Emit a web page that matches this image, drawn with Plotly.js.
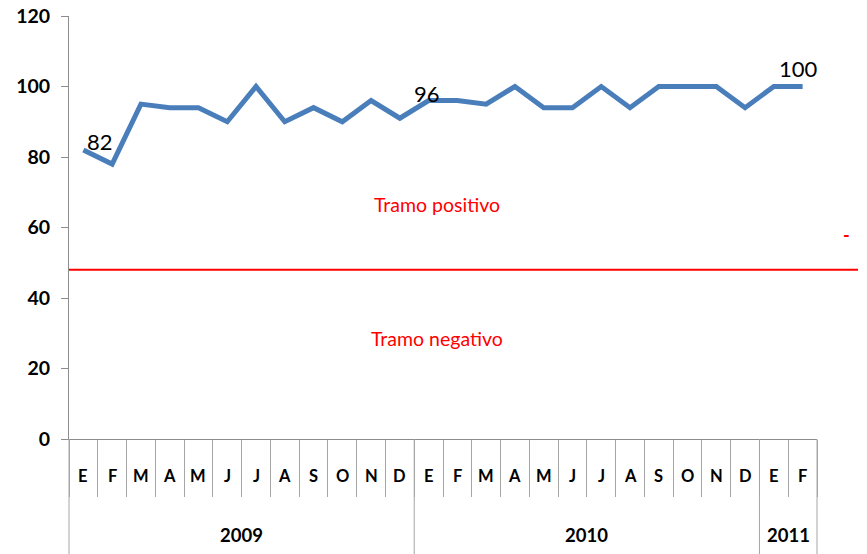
<!DOCTYPE html>
<html>
<head>
<meta charset="utf-8">
<script src="https://cdn.plot.ly/plotly-3.0.1.min.js"></script>
<style>html,body{margin:0;padding:0;background:#fff;}#chart{width:867px;height:554px;}</style>
</head>
<body>
<div id="chart"></div>
<script>
// ---- data ----
var months = ["E","F","M","A","M","J","J","A","S","O","N","D",
              "E","F","M","A","M","J","J","A","S","O","N","D",
              "E","F"];
var years = ["2009","2009","2009","2009","2009","2009","2009","2009","2009","2009","2009","2009",
             "2010","2010","2010","2010","2010","2010","2010","2010","2010","2010","2010","2010",
             "2011","2011"];
var values = [82,78,95,94,94,90,100,90,94,90,96,91,
              96,96,95,100,94,94,100,94,100,100,100,94,
              100,100];
var labelledIdx = [0, 12, 25];          // points carrying a value label
var labelShift = [[17,8],[-2,7],[-4,18]]; // pixel offsets of those labels
var threshold = 48;
var zoneLabels = ["Tramo positivo", "Tramo negativo"];
var zoneValues = [66.4, 28.4];
var yTicks = [0,20,40,60,80,100,120];

// ---- derived ----
var N = months.length;
var xs = months.map(function(_, i){ return i; });
var xMin = -0.5, xMax = N - 0.5, yMax = 120;
var bounds = [];
for (var b = 0; b <= N; b++) bounds.push(b - 0.5);

// year groups
var groups = [];
years.forEach(function(y, i){
  if (!groups.length || groups[groups.length-1].year !== y) groups.push({year:y, start:i, end:i});
  else groups[groups.length-1].end = i;
});

var plotH = 554 - 16 - 115;
var annotations = [];
var shapes = [];
var fam = "Lato, 'Open Sans', sans-serif";
var boldFont = {family:fam, size:16.5, color:"#000", weight:"bold"};

months.forEach(function(m, i){
  annotations.push({x:i, y:-37/plotH, xref:"x", yref:"paper", text:m, showarrow:false,
    xanchor:"center", yanchor:"middle", font:boldFont});
});
groups.forEach(function(g){
  annotations.push({x:(g.start+g.end)/2, y:-96/plotH, xref:"x", yref:"paper", text:g.year, showarrow:false,
    xanchor:"center", yanchor:"middle", font:{family:fam, size:18.5, color:"#000", weight:"bold"}});
});
// year dividers
var yearBounds = [groups[0].start - 0.5].concat(groups.map(function(g){ return g.end + 0.5; }));
yearBounds.forEach(function(bx){
  var p = (bx - xMin)/(xMax - xMin);
  shapes.push({type:"line", xref:"paper", yref:"paper", x0:p, x1:p, y0:0, y1:-115/plotH,
    line:{color:"#a6a6a6", width:1}});
});
// threshold line (extends past the plot area on the right)
shapes.push({type:"line", xref:"paper", yref:"paper", x0:0, x1:(858-69)/748,
  y0:threshold/yMax, y1:threshold/yMax, line:{color:"#ff0000", width:2}});

// data labels
labelledIdx.forEach(function(idx, k){
  annotations.push({x:idx, y:values[idx], xref:"x", yref:"y", text:String(values[idx]), showarrow:false,
    xanchor:"center", yanchor:"middle", xshift:labelShift[k][0], yshift:labelShift[k][1],
    font:{family:fam, size:22, color:"#000"}});
});
// zone labels
zoneLabels.forEach(function(t, k){
  annotations.push({x:0.492, y:zoneValues[k], xref:"paper", yref:"y", text:t, showarrow:false,
    xanchor:"center", yanchor:"middle", font:{family:fam, size:19.5, color:"#ff0000"}});
});
// stray red dash at right
annotations.push({x:(846-69)/748, y:58, xref:"paper", yref:"y", text:"-", showarrow:false,
  xanchor:"center", yanchor:"middle", font:{family:fam, size:18, color:"#ff0000", weight:"bold"}});

var trace = {
  x: xs, y: values, type:"scatter", mode:"lines",
  line:{color:"#4A7EBB", width:5},
  hoverinfo:"skip"
};

var layout = {
  width:867, height:554,
  margin:{l:69, r:50, t:16, b:115, pad:0},
  paper_bgcolor:"#fff", plot_bgcolor:"#fff",
  showlegend:false,
  xaxis:{
    range:[xMin, xMax], showgrid:false, zeroline:false,
    showline:true, linecolor:"#8c8c8c", linewidth:1,
    tickmode:"array", tickvals:bounds, showticklabels:false,
    ticks:"outside", ticklen:57, tickcolor:"#a6a6a6", tickwidth:1
  },
  yaxis:{
    range:[0, yMax], showgrid:false, zeroline:false,
    showline:true, linecolor:"#8c8c8c", linewidth:1,
    tickmode:"array", tickvals:yTicks, ticktext:yTicks.map(String),
    ticks:"outside", ticklen:7, tickcolor:"#8c8c8c",
    ticklabelstandoff:7,
    tickfont:{family:fam, size:19.5, color:"#000", weight:"bold"}
  },
  annotations:annotations,
  shapes:shapes
};

Plotly.newPlot("chart", [trace], layout, {displayModeBar:false, staticPlot:true});
</script>
</body>
</html>
